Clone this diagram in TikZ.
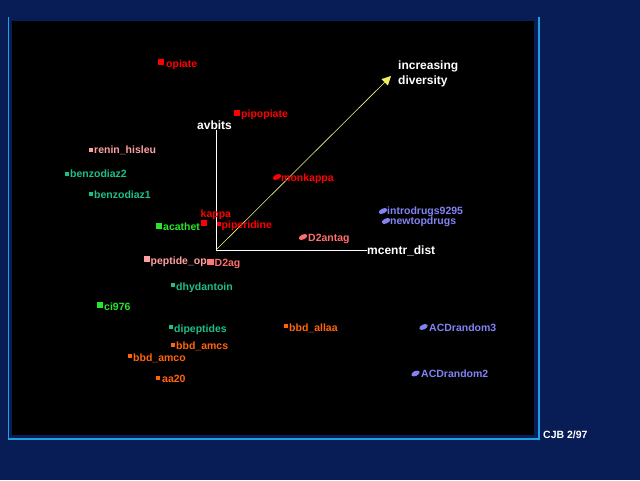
\documentclass[tikz,border=0pt]{standalone}
\usepackage{fontspec}
\setmainfont{Liberation Sans}
\usetikzlibrary{shapes.geometric,arrows.meta}
\definecolor{navybg}{RGB}{8,28,85}
\definecolor{framecyan}{RGB}{30,160,225}
\definecolor{ptred}{RGB}{255,0,0}
\definecolor{ptpink}{RGB}{255,160,160}
\definecolor{ptsalmon}{RGB}{255,110,110}
\definecolor{ptteal}{RGB}{30,190,140}
\definecolor{ptgreen}{RGB}{40,230,40}
\definecolor{ptorange}{RGB}{255,100,10}
\definecolor{ptblue}{RGB}{130,130,245}
\definecolor{arrowyellow}{RGB}{240,240,90}
\tikzset{
  lbl/.style={anchor=west,inner sep=0pt,text height=7.6pt,text depth=0pt,font=\fontsize{10.5}{12}\selectfont\bfseries},
  wlbl/.style={inner sep=0pt,text height=8.6pt,text depth=0pt,font=\fontsize{12}{14}\selectfont\bfseries,text=white},
  sqs/.style={rectangle,inner sep=0pt,minimum size=4pt,fill=#1},
  sqb/.style={rectangle,inner sep=0pt,minimum size=6.5pt,fill=#1},
  blob/.style={ellipse,inner sep=0pt,minimum width=9pt,minimum height=5pt,rotate=25,fill=#1},
}
\begin{document}
\begin{tikzpicture}[x=1pt,y=-1pt]
\useasboundingbox (0,0) rectangle (640,480);
\fill[navybg] (0,0) rectangle (640,480);
\fill[black] (12,21) rectangle (534,435);
\draw[framecyan,line width=1.2pt] (8.5,17) -- (8.5,439) -- (539,439) -- (539,17);

% axes
\coordinate (O) at (216,250);
\node[wlbl] (avbits) at (214.5,125) {avbits};
\node[wlbl,anchor=west] (mcentr) at (367,250) {mcentr\_dist};
\node[wlbl,anchor=west] (incr) at (398,65) {increasing};
\node[wlbl,anchor=west] (divers) at (398,80) {diversity};
\coordinate (tip) at (391,76);
\draw[white,line width=1pt] (avbits.south -| O) -- (O) -- (mcentr.west);
\draw[arrowyellow!70!white,line width=0.6pt,-{Triangle[length=9pt,width=9pt,fill=arrowyellow,color=arrowyellow]}] (O) -- (tip);

% points
\node[sqb=ptred] (m1) at (161,62) {};
\node[lbl,text=ptred] (l1) at (166,63.5) {opiate};
\node[sqb=ptred] (m2) at (237,113) {};
\node[lbl,text=ptred] (l2) at (241,114) {pipopiate};
\node[sqs=ptpink] (m3) at (91,150) {};
\node[lbl,text=ptpink] (l3) at (94,150) {renin\_hisleu};
\node[sqs=ptteal] (m4) at (67,173.5) {};
\node[lbl,text=ptteal] (l4) at (70,174) {benzodiaz2};
\node[sqs=ptteal] (m5) at (91,194) {};
\node[lbl,text=ptteal] (l5) at (94,195) {benzodiaz1};
\node[blob=ptred] (m6) at (277,177) {};
\node[lbl,text=ptred] (l6) at (281,177.5) {monkappa};
\node[sqb=ptred] (m7) at (204,223) {};
\node[lbl,text=ptred] (l7) at (200.5,214) {kappa};
\node[sqs=ptred] (m8) at (219,224) {};
\node[lbl,text=ptred] (l8) at (221.5,225) {piperidine};
\node[blob=ptsalmon] (m9) at (303,237) {};
\node[lbl,text=ptsalmon] (l9) at (308,237.5) {D2antag};
\node[sqb=ptgreen] (m10) at (159,226) {};
\node[lbl,text=ptgreen] (l10) at (163,227) {acathet};
\node[sqb=ptpink] (m11) at (147,259) {};
\node[lbl,text=ptpink] (l11) at (150.5,261) {peptide\_op};
\node[sqb=ptsalmon!80!ptpink] (m12) at (210.5,262) {};
\node[lbl,text=ptsalmon] (l12) at (214.5,263) {D2ag};
\node[sqs=ptteal] (m13) at (172.5,285) {};
\node[lbl,text=ptteal] (l13) at (176,287) {dhydantoin};
\node[sqb=ptgreen] (m14) at (100,305) {};
\node[lbl,text=ptgreen] (l14) at (104,306.5) {ci976};
\node[sqs=ptteal] (m15) at (170.5,327) {};
\node[lbl,text=ptteal] (l15) at (174,329) {dipeptides};
\node[sqs=ptorange] (m16) at (285.5,326) {};
\node[lbl,text=ptorange] (l16) at (289,328) {bbd\_allaa};
\node[sqs=ptorange] (m17) at (172.5,345) {};
\node[lbl,text=ptorange] (l17) at (176,346) {bbd\_amcs};
\node[sqs=ptorange] (m18) at (129.5,356) {};
\node[lbl,text=ptorange] (l18) at (133,357.5) {bbd\_amco};
\node[sqs=ptorange] (m19) at (158,378) {};
\node[lbl,text=ptorange] (l19) at (162,379) {aa20};
\node[blob=ptblue] (m20) at (383,211) {};
\node[lbl,text=ptblue] (l20) at (387,210.5) {introdrugs9295};
\node[blob=ptblue] (m21) at (386,221) {};
\node[lbl,text=ptblue] (l21) at (390,221) {newtopdrugs};
\node[blob=ptblue] (m22) at (423.5,327) {};
\node[lbl,text=ptblue] (l22) at (429,327.5) {ACDrandom3};
\node[blob=ptblue] (m23) at (415.5,373.5) {};
\node[lbl,text=ptblue] (l23) at (421,374) {ACDrandom2};

\node[lbl,text=white] (cjb) at (543,435) {CJB 2/97};
\end{tikzpicture}
\end{document}
